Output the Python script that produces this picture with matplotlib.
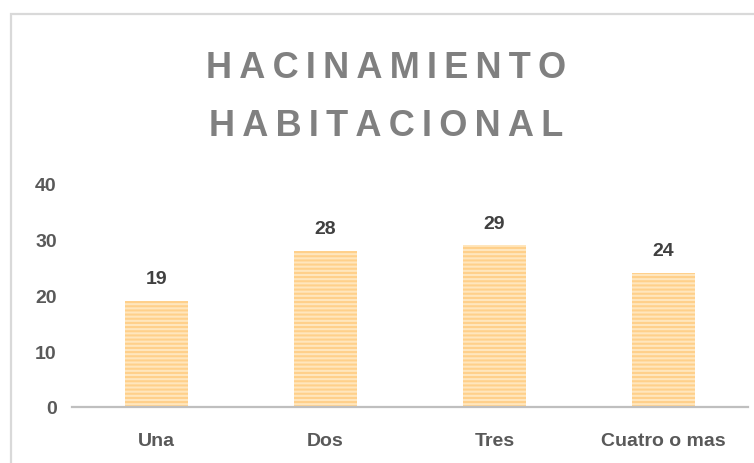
import matplotlib
matplotlib.use("Agg")
import matplotlib.pyplot as plt
from matplotlib.patches import Rectangle

categories = ["Una", "Dos", "Tres", "Cuatro o mas"]
values = [19, 28, 29, 24]
y_ticks = [0, 10, 20, 30, 40]
title_lines = ["HACINAMIENTO", "HABITACIONAL"]

plt.rcParams["font.family"] = ["Liberation Sans", "DejaVu Sans"]
plt.rcParams["hatch.linewidth"] = 1.5

fig = plt.figure(figsize=(7.54, 4.64), dpi=100)
ax = fig.add_axes([0.0955, 0.1207, 0.8965, 0.4806])

# chart frame (light grey border, cut off at right/bottom)
fig.patches.append(Rectangle((11 / 754, -0.01), 1.0, 1 - 15 / 464 + 0.01,
                             transform=fig.transFigure, fill=False,
                             edgecolor="#d9d9d9", linewidth=1.6))

x = range(len(categories))
bars = ax.bar(x, values, width=0.375, facecolor="#ffe6bd",
              edgecolor="#ffd08a", hatch="----", linewidth=0, zorder=2)
for xi, v in zip(x, values):
    ax.text(xi, v + 4.0, str(v), ha="center", va="center",
            fontsize=14, fontweight="bold", color="#404040")

ax.set_xlim(-0.5, len(categories) - 0.5)
ax.set_ylim(0, 40)
ax.set_yticks(y_ticks)
ax.set_xticks(list(x))
ax.set_xticklabels(categories)
for s in ["top", "right", "left"]:
    ax.spines[s].set_visible(False)
ax.spines["bottom"].set_color("#bfbfbf")
ax.spines["bottom"].set_linewidth(1.6)
ax.spines["bottom"].set_zorder(3)
ax.tick_params(axis="both", length=0, labelsize=14, labelcolor="#595959")
ax.tick_params(axis="x", pad=18)
ax.tick_params(axis="y", pad=11)
for lab in ax.get_xticklabels() + ax.get_yticklabels():
    lab.set_fontweight("bold")

for i, line in enumerate(title_lines):
    fig.text(0.512, 1 - (68 + 59 * i) / 464, "\u2009".join(line),
             ha="center", va="center", fontsize=26, fontweight="bold",
             color="#808080")

fig.savefig("out.png", dpi=100)
